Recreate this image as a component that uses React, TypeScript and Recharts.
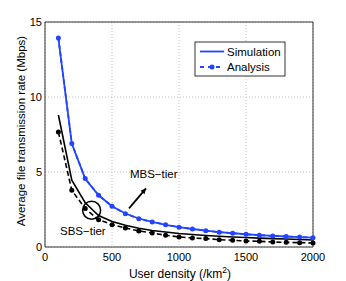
import React from 'react';
import { LineChart, Line, XAxis, YAxis, CartesianGrid, ReferenceDot, ReferenceLine, Customized } from 'recharts';

const density = [100, 200, 300, 400, 500, 600, 700, 800, 900, 1000, 1100, 1200, 1300, 1400, 1500, 1600, 1700, 1800, 1900, 2000];
const mbsSim = [13.9, 6.9, 4.55, 3.45, 2.72, 2.23, 1.9, 1.67, 1.48, 1.32, 1.2, 1.09, 0.99, 0.92, 0.85, 0.79, 0.74, 0.7, 0.66, 0.62];
const mbsAna = [13.93, 6.9, 4.56, 3.45, 2.71, 2.22, 1.89, 1.67, 1.49, 1.32, 1.2, 1.09, 0.99, 0.92, 0.85, 0.79, 0.74, 0.7, 0.66, 0.62];
const sbsSim = [8.8, 4.45, 2.95, 2.1, 1.7, 1.45, 1.25, 1.1, 1.0, 0.9, 0.83, 0.77, 0.72, 0.67, 0.63, 0.59, 0.56, 0.53, 0.5, 0.47];
const sbsAna = [7.67, 3.78, 2.56, 1.82, 1.49, 1.27, 1.07, 0.93, 0.78, 0.67, 0.6, 0.56, 0.49, 0.45, 0.4, 0.38, 0.33, 0.31, 0.29, 0.27];
const xTicks = [0, 500, 1000, 1500, 2000];
const yTicks = [0, 5, 10, 15];

const data = density.map((d, i) => ({ d, mbsSim: mbsSim[i], mbsAna: mbsAna[i], sbsSim: sbsSim[i], sbsAna: sbsAna[i] }));

const BLUE = '#2244ff';
const FONT = 'Liberation Sans, Arial, sans-serif';

const Overlay = () => (
  <g fontFamily={FONT} fill="#000">
    <rect x={195} y={42} width={90} height={34} fill="#fff" stroke="#000" strokeWidth={0.8} />
    <line x1={200} y1={51.5} x2={224} y2={51.5} stroke={BLUE} strokeWidth={1.8} />
    <text x={227} y={55.5} fontSize={11.5}>Simulation</text>
    <line x1={200} y1={67} x2={224} y2={67} stroke={BLUE} strokeWidth={1.8} strokeDasharray="4 4" />
    <circle cx={212} cy={67} r={2.5} fill={BLUE} />
    <text x={227} y={71} fontSize={11.5}>Analysis</text>
    <text x={180} y={278} textAnchor="middle" fontSize={12}>
      User density (/km<tspan dy={-5} fontSize={8.5}>2</tspan><tspan dy={5}>)</tspan>
    </text>
    <text x={25} y={131} textAnchor="middle" fontSize={11.5} transform="rotate(-90 25 131)">Average file transmission rate (Mbps)</text>
  </g>
);

const Arrow = (props: any) => {
  const { x1, y1, x2, y2 } = props;
  if (x1 == null) return null;
  const ang = Math.atan2(y2 - y1, x2 - x1);
  const L = 6;
  const a1 = ang + Math.PI - 0.45;
  const a2 = ang + Math.PI + 0.45;
  return (
    <g>
      <line x1={x1} y1={y1} x2={x2} y2={y2} stroke="#000" strokeWidth={1.8} />
      <polygon points={`${x2},${y2} ${x2 + L * Math.cos(a1)},${y2 + L * Math.sin(a1)} ${x2 + L * Math.cos(a2)},${y2 + L * Math.sin(a2)}`} fill="#000" />
    </g>
  );
};

const ArrowLine = (props: any) => <Arrow x1={props.x1} y1={props.y1} x2={props.x2} y2={props.y2} />;

const TextDot = (label: string) => (props: any) => (
  <text x={props.cx} y={props.cy} dy={4} fontFamily={FONT} fontSize={11.5} fill="#000">{label}</text>
);

export default function App() {
  return (
    <div style={{ position: 'absolute', left: 0, top: 0, background: '#fff' }}>
      <LineChart width={346} height={281} data={data} margin={{ top: 22, right: 33, bottom: 0, left: 0 }}>
        <CartesianGrid stroke="#b0b0b0" strokeDasharray="1 2" strokeWidth={0.8} />
        <XAxis dataKey="d" type="number" domain={[0, 2000]} ticks={xTicks} height={34}
          tick={{ fontFamily: FONT, fontSize: 11, fill: '#000' }} tickLine={false} tickSize={6}
          axisLine={{ stroke: '#333' }} tickMargin={0} />
        <YAxis type="number" domain={[0, 15]} ticks={yTicks} width={45}
          tick={{ fontFamily: FONT, fontSize: 11, fill: '#000' }} tickLine={false} tickSize={3}
          axisLine={{ stroke: '#333' }} tickMargin={0} />
        <ReferenceLine y={15} stroke="#333" />
        <ReferenceLine x={2000} stroke="#333" />
        <Line dataKey="mbsSim" stroke={BLUE} strokeWidth={1.8} dot={false} isAnimationActive={false} />
        <Line dataKey="mbsAna" stroke={BLUE} strokeWidth={1.8} strokeDasharray="4 3"
          dot={{ r: 2.5, fill: BLUE, stroke: BLUE, strokeWidth: 0 }} isAnimationActive={false} />
        <Line dataKey="sbsSim" stroke="#000" strokeWidth={1.6} dot={false} isAnimationActive={false} />
        <Line dataKey="sbsAna" stroke="#000" strokeWidth={1.6} strokeDasharray="5 3"
          dot={{ r: 2.5, fill: '#000', stroke: '#000', strokeWidth: 0 }} isAnimationActive={false} />
        <ReferenceDot x={348} y={2.45} r={9} fill="none" stroke="#000" strokeWidth={1.5} />
        <ReferenceLine segment={[{ x: 627, y: 2.58 }, { x: 754, y: 3.91 }]} shape={ArrowLine} />
        <ReferenceDot x={634} y={4.9} r={0} shape={TextDot('MBS\u2212tier')} />
        <ReferenceDot x={112} y={1.07} r={0} shape={TextDot('SBS\u2212tier')} />
        <Customized component={Overlay} />
      </LineChart>
    </div>
  );
}
